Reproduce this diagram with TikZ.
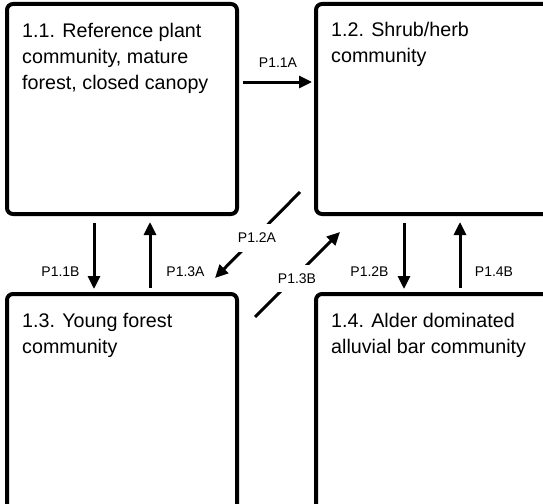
\documentclass[tikz,border=0pt]{standalone}
\usepackage{fontspec}
\setmainfont{Liberation Sans}
\usetikzlibrary{arrows.meta,calc}
\begin{document}
\begin{tikzpicture}[x=1pt,y=1pt,
  box/.style={draw, line width=4pt, rounded corners=6pt, inner sep=0pt, outer sep=0pt},
  boxtext/.style={anchor=base west, align=left, inner sep=0pt, font=\fontsize{19.7}{26}\selectfont},
  arr/.style={line width=3pt, -{Triangle[length=13pt,width=12pt]}},
  lbl/.style={font=\fontsize{14}{16}\selectfont, inner sep=1pt},
  dlbl/.style={lbl, fill=white, inner xsep=2pt, inner ysep=9pt}
]
\useasboundingbox (0,0) rectangle (543,-503);
\begin{scope}
\clip (0,0) rectangle (543,-503);
% boxes
\node[box, minimum width=230pt, minimum height=210pt] (b11) at (122,-109) {};
\node[box, minimum width=236pt, minimum height=210pt] (b12) at (434,-109) {};
\node[box, minimum width=230pt, minimum height=216pt] (b13) at (122,-402) {};
\node[box, minimum width=236pt, minimum height=216pt] (b14) at (434,-402) {};
% box texts (anchor base = last line's baseline)
\node[boxtext] (t11) at (22,-89) {1.1. Reference plant\\community, mature\\forest, closed canopy};
\node[boxtext] (t12) at (331,-63) {1.2. Shrub/herb\\community};
\node[boxtext] (t13) at (22,-353) {1.3. Young forest\\community};
\node[boxtext] (t14) at (331,-353) {1.4. Alder dominated\\alluvial bar community};
% horizontal arrow
\draw[arr, shorten <=6pt, shorten >=4pt] ([yshift=-78pt]b11.north east) -- ([yshift=-78pt]b12.north west);
% vertical arrows
\draw[arr, shorten <=9pt, shorten >=5pt] ([xshift=87pt]b11.south west) -- ([xshift=87pt]b13.north west);
\draw[arr, shorten <=6pt, shorten >=8pt] ([xshift=143pt]b13.north west) -- ([xshift=143pt]b11.south west);
\draw[arr, shorten <=9pt, shorten >=5pt] ([xshift=88pt]b12.south west) -- ([xshift=88pt]b14.north west);
\draw[arr, shorten <=6pt, shorten >=8pt] ([xshift=144pt]b14.north west) -- ([xshift=144pt]b12.south west);
% diagonal arrows
\draw[arr] ([shift={(-16,22)}]b12.south west) -- ([shift={(-22,16)}]b13.north east);
\draw[arr] ([shift={(18,-23)}]b13.north east) -- ([shift={(24,-18)}]b12.south west);
% labels
\node[lbl] (l11a) at (278,-63) {P1.1A};
\node[lbl] (l11b) at (60.5,-272) {P1.1B};
\node[lbl] (l13a) at (185.5,-272) {P1.3A};
\node[lbl] (l12b) at (369.5,-272) {P1.2B};
\node[lbl] (l14b) at (494,-272) {P1.4B};
\node[dlbl] (l12a) at (257,-238) {P1.2A};
\node[dlbl] (l13b) at (297,-278.5) {P1.3B};
\end{scope}
\end{tikzpicture}
\end{document}
